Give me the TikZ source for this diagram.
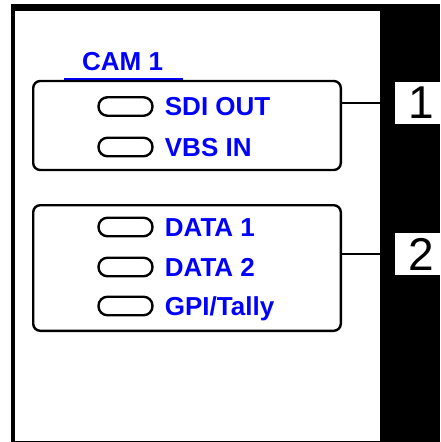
\documentclass[tikz,border=0pt]{standalone}
\usepackage{fontspec}
\setmainfont{Liberation Sans}
\usepackage{tikz}
\usetikzlibrary{positioning}
\definecolor{portblue}{RGB}{0,0,255}

\begin{document}
\begin{tikzpicture}[x=1pt, y=-1pt,
  groupbox/.style={draw, line width=2.4pt, rounded corners=7pt, minimum width=307.6pt, inner sep=0pt},
  jack/.style={draw, line width=2.4pt, rounded corners=9pt, minimum width=54pt, minimum height=18.5pt, inner sep=0pt},
  portname/.style={inner sep=0pt, text=portblue, text height=18.6pt, text depth=0pt, font=\fontsize{26}{26}\selectfont\bfseries},
  numbox/.style={fill=white, minimum width=52pt, minimum height=42pt, inner sep=0pt, font=\fontsize{46}{46}\selectfont},
  link/.style={line width=1.5pt}]
  \useasboundingbox (0,0) rectangle (440,442);
  \fill (11,4) rectangle (440,442);
  \fill[white] (15,11) rectangle (380,440.5);

  % camera title
  \node[portname, anchor=base west] (title) at (82,70) {CAM 1};
  \draw[portblue, line width=3pt] ([shift={(-18,9)}]title.base west) -- ([shift={(20,9)}]title.base east);

  % group 1: video
  \node[groupbox, minimum height=89pt] (grp1) at (187,125.5) {};
  \node[jack] (j1) at (125.5,106.5) {};
  \node[portname, right=11pt of j1] (p1) {SDI OUT};
  \node[jack] (j2) at (125.5,147) {};
  \node[portname, right=11pt of j2] (p2) {VBS IN};

  % group 2: data
  \node[groupbox, minimum height=125.6pt] (grp2) at (187,268) {};
  \node[jack] (j3) at (125.5,227) {};
  \node[portname, right=11pt of j3] (p3) {DATA 1};
  \node[jack] (j4) at (125.5,267) {};
  \node[portname, right=11pt of j4] (p4) {DATA 2};
  \node[jack] (j5) at (125.5,306) {};
  \node[portname, right=11pt of j5] (p5) {GPI/Tally};

  % numbered callouts
  \node[numbox] (num1) at (421,103) {1};
  \node[numbox] (num2) at (421,254) {2};
  \draw[link] (grp1.east |- num1.west) -- (num1.west);
  \draw[link] (grp2.east |- num2.west) -- (num2.west);
\end{tikzpicture}
\end{document}
